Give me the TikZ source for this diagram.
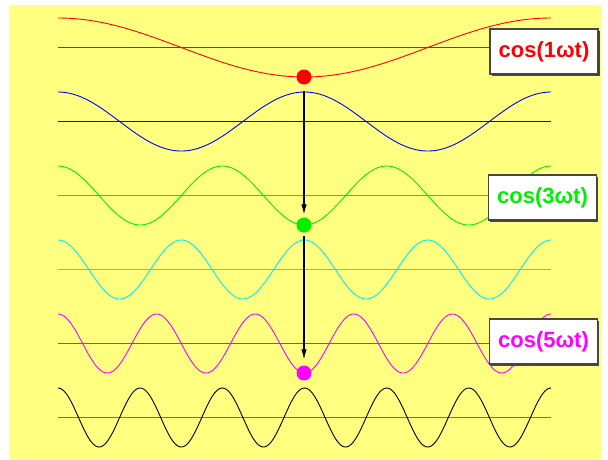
\documentclass[tikz,border=0pt]{standalone}
\usepackage{fontspec}
\newfontfamily\labfont{Liberation Sans}
\usetikzlibrary{arrows.meta}
\definecolor{bgyellow}{RGB}{255,255,128}
\definecolor{boxborder}{RGB}{70,70,70}
\definecolor{wred}{RGB}{255,0,0}
\definecolor{wblue}{RGB}{0,0,255}
\definecolor{wgreen}{RGB}{0,240,0}
\definecolor{wcyan}{RGB}{0,240,240}
\definecolor{wmagenta}{RGB}{255,0,255}
\definecolor{wblack}{RGB}{0,0,0}
\definecolor{wolive}{RGB}{120,120,60}
\tikzset{
  wave/.style={line width=0.9pt},
  axisline/.style={line width=1.2pt},
  dot/.style={circle, inner sep=0pt, minimum size=15pt},
  flow/.style={line width=1.1pt, -{Latex[length=10pt,width=5.5pt]}},
  labelbox/.style={draw=boxborder, line width=1.1pt, fill=white, minimum width=108pt, minimum height=45pt, inner sep=0pt,
    font=\labfont\bfseries\fontsize{22}{26}\selectfont},
  boxshadow/.style={fill=boxborder, minimum width=108pt, minimum height=45pt, inner sep=0pt}
}
\begin{document}
\begin{tikzpicture}[x=1pt,y=-1pt]
\useasboundingbox (0,0) rectangle (608,459);
\fill[bgyellow] (9,5) rectangle (601,459);
% baselines
\draw[axisline, wred]     plot[domain=58:551, samples=3] (\x,47.5);
\draw[axisline, wblue]    plot[domain=58:551, samples=3] (\x,121.5);
\draw[axisline, wgreen]   plot[domain=58:551, samples=3] (\x,195.5);
\draw[axisline, wcyan]    plot[domain=58:551, samples=3] (\x,269.5);
\draw[axisline, wmagenta] plot[domain=58:551, samples=3] (\x,343.5);
\draw[axisline, wolive]   plot[domain=58:551, samples=3] (\x,417.5);
% waves
\draw[wave, color=wred]     plot[domain=58:551, samples=300] (\x,{47.5-29.5*cos(360*((\x-58)/493))});
\draw[wave, color=wblue]    plot[domain=58:551, samples=300] (\x,{121.5-29.5*cos(2*360*((\x-58)/493))});
\draw[wave, color=wgreen]   plot[domain=58:551, samples=300] (\x,{195.5-29.5*cos(3*360*((\x-58)/493))});
\draw[wave, color=wcyan]    plot[domain=58:551, samples=300] (\x,{269.5-29.5*cos(4*360*((\x-58)/493))});
\draw[wave, color=wmagenta] plot[domain=58:551, samples=300] (\x,{343.5-29.5*cos(5*360*((\x-58)/493))});
\draw[wave, color=wblack]   plot[domain=58:551, samples=300] (\x,{417.5-29.5*cos(6*360*((\x-58)/493))});
% dots
\node[dot, fill=wred] (d1) at (304,77) {};
\node[dot, fill=wgreen] (d3) at (304,225) {};
\node[dot, fill=wmagenta] (d5) at (304,373) {};
\coordinate (top2) at (304,91);
% arrows
\draw[flow, shorten >=3pt] (top2) -- (d3);
\draw[flow, shorten <=3pt, shorten >=6pt] (d3) -- (d5);
% labels
\node[boxshadow] at (545.5,53) {};
\node[labelbox, text=wred] (l1) at (544,51.5) {cos(1ωt)};
\node[boxshadow] at (544,199) {};
\node[labelbox, text=wgreen] (l3) at (542.5,197.5) {cos(3ωt)};
\node[boxshadow] at (545,343) {};
\node[labelbox, text=wmagenta] (l5) at (543.5,341.5) {cos(5ωt)};
\end{tikzpicture}
\end{document}
